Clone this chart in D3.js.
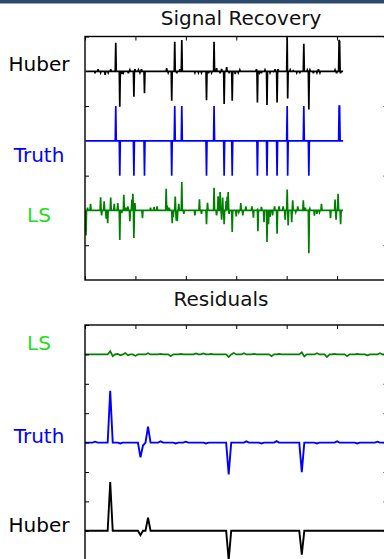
<!DOCTYPE html>
<html>
<head>
<meta charset="utf-8">
<script src="https://cdn.jsdelivr.net/npm/d3@7/dist/d3.min.js"></script>
<style>
  body { margin: 0; background: #fff; }
  text { font-family: "DejaVu Sans", sans-serif; }
</style>
</head>
<body>
<div class="svg-container"></div>
<script>
// signal length and x ticks
var sigLen = 512;
var xTicks = [0, 100, 200, 300, 400, 500, 600];

// true sparse signal: [index, value]
var truthSpikes = [[61,1],[69,-1],[97,-1],[118,-1],[172,-1],[178,1],[192,1],[241,-1],
                   [256,1],[276,-1],[292,-1],[342,-1],[361,-1],[381,-1],[401,1],[402,-1],
                   [434,1],[444,-1],[504,1],[505,1]];

// huber recovery: big spikes plus small noise
var huberSpikes = [[61,0.82],[69,-1.02],[97,-0.73],[118,-0.63],[172,-0.85],[178,0.85],
                   [192,0.9],[241,-0.83],[256,0.85],[276,-0.94],[292,-0.85],[342,-0.9],
                   [361,-0.97],[381,-0.9],[401,0.98],[402,-0.78],[434,0.79],[444,-1.1],
                   [504,0.9],[505,0.85]];
var huberNoise = [[20,-0.06],[26,0.06],[31,-0.04],[40,-0.1],[46,-0.04],[51,0.06],[73,-0.08],
                  [76,-0.04],[86,-0.06],[89,0.04],[99,0.06],[106,0.04],[109,-0.04],[112,0.06],
                  [162,0.09],[165,-0.04],[182,-0.06],[188,0.06],[218,-0.04],[225,-0.04],
                  [231,-0.04],[245,-0.06],[251,-0.04],[261,0.09],[268,-0.06],[271,0.07],
                  [281,0.12],[286,-0.06],[298,-0.08],[304,-0.04],[307,0.04],[340,0.06],
                  [346,-0.04],[350,-0.06],[357,0.04],[367,-0.04],[374,-0.01],[377,0.06],
                  [383,0.06],[407,0.04],[413,0.02],[420,-0.04],[426,-0.06],[441,0.04],
                  [446,0.04],[453,-0.06],[460,-0.04],[463,0.06],[466,-0.04],[496,0.04],
                  [499,-0.06],[507,-0.06]];

// least squares recovery
var lsValues = [[2,-0.72],[5,0.08],[11,0.19],[31,0.38],[33,-0.14],[38,0.26],[42,-0.24],
                [45,-0.37],[51,0.37],[58,0.19],[65,0.21],[69,-0.85],[73,-0.08],[77,0.45],
                [81,0.08],[85,0.12],[89,-0.31],[93,0.31],[95,0.48],[97,-0.79],[99,0.21],
                [114,-0.22],[130,0.08],[137,0.1],[143,0.12],[161,0.62],[163,0.14],[167,0.08],
                [173,-0.37],[175,-0.19],[179,0.4],[181,-0.29],[183,-0.31],[186,0.19],[192,0.82],
                [196,-0.1],[218,-0.14],[227,0.32],[231,-0.1],[241,-0.4],[243,0.22],[256,0.65],
                [261,-0.14],[264,0.41],[268,0.53],[271,-0.27],[273,0.37],[276,-0.4],[280,0.27],
                [282,0.4],[284,0.53],[286,-0.1],[292,-0.62],[300,-0.17],[305,-0.05],[309,0.21],
                [313,-0.14],[319,0.12],[331,0.12],[334,-0.21],[342,0.02],[343,-0.6],[350,0.1],
                [355,-0.34],[361,-0.91],[364,-0.4],[367,-0.19],[372,-0.14],[376,0.12],
                [381,-0.67],[385,0.12],[393,0.12],[397,-0.27],[401,0.6],[403,-0.43],[410,-0.34],
                [412,0.29],[418,-0.05],[422,0.12],[433,0.29],[437,0.08],[444,-1.23],[446,0.05],
                [455,-0.15],[460,-0.1],[465,-0.05],[469,0.19],[487,-0.22],[496,0.31],
                [498,-0.27],[502,0.48],[507,-0.4]];

// residuals, sampled every 5 over 0..600
var resStep = 5;
var resTruth = [[20,0.03],[50,1.76],[70,-0.03],[110,-0.5],[115,-0.1],[125,0.54],[150,0.04],
                [180,-0.03],[200,0.03],[240,-0.03],[285,-1.08],[320,0.04],[350,-0.03],
                [380,0.05],[430,-1.01],[460,-0.03],[500,0.04],[540,-0.03],[580,0.03]];
var resHuber = [[50,1.66],[110,-0.15],[125,0.45],[285,-1.0],[430,-0.81]];
var resLS = [[50,0.11],[55,-0.06],[65,0.02],[70,-0.03],[80,0.05],[85,-0.03],[100,-0.05],
             [125,0.04],[150,0.02],[170,-0.06],[190,0.02],[220,0.03],[235,0.03],[250,0.02],
             [285,-0.09],[295,0.05],[315,0.04],[335,0.02],[370,-0.06],[385,0.02],[430,0.07],
             [435,-0.07],[460,0.04],[480,-0.09],[495,0.02],[520,-0.06],[540,0.02],[560,-0.03],
             [585,0.04]];

var labelsTop = ["Huber", "Truth", "LS"];
var labelsRes = ["LS", "Truth", "Huber"];

function fillSeries(len, start, step, pairs) {
  var m = new Map();
  pairs.forEach(function(p) { m.set(p[0], (m.get(p[0]) || 0) + p[1]); });
  var out = [];
  for (var i = 0; i < len; i++) {
    var idx = start + i * step;
    out.push({ x: idx, y: m.get(idx) || 0 });
  }
  return out;
}

var huberSeries = fillSeries(sigLen, 1, 1, huberSpikes.concat(huberNoise));
var truthSeries = fillSeries(sigLen, 1, 1, truthSpikes);
var lsSeries = fillSeries(sigLen, 1, 1, lsValues);
var nRes = 600 / resStep + 1;
var resTruthSeries = fillSeries(nRes, 0, resStep, resTruth);
var resHuberSeries = fillSeries(nRes, 0, resStep, resHuber);
var resLSSeries = fillSeries(nRes, 0, resStep, resLS);

var svg = d3.select(".svg-container").append("svg")
  .attr("width", 384).attr("height", 559);

// beamer header strip
svg.append("rect").attr("x", 0).attr("y", 0).attr("width", 384).attr("height", 3.5)
  .attr("fill", "#2c4a6e");

var x = d3.scaleLinear().domain([0, 600]).range([85, 387.5]);
var ySig = d3.scaleLinear().domain([-4, 3]).range([280, 36.5]);
var yRes = d3.scaleLinear().domain([-1.3, 7]).range([569, 325]);

function drawPanel(y, yTicks, clipId, series, title, titleX, titleY) {
  var g = svg.append("g");
  var x0 = x.range()[0], x1 = x.range()[1];
  var yTop = y.range()[1], yBot = y.range()[0];

  svg.append("clipPath").attr("id", clipId).append("rect")
    .attr("x", x0).attr("y", yTop).attr("width", x1 - x0).attr("height", yBot - yTop);

  var lines = g.append("g").attr("clip-path", "url(#" + clipId + ")");
  series.forEach(function(s) {
    var line = d3.line()
      .x(function(d) { return x(d.x); })
      .y(function(d) { return y(d.y + s.offset); });
    lines.append("path").attr("d", line(s.data))
      .attr("fill", "none").attr("stroke", s.color)
      .attr("stroke-width", s.width).attr("stroke-linejoin", "miter");
  });

  // inward ticks on all sides
  var tl = 4;
  g.append("g").attr("transform", "translate(0," + yTop + ")")
    .call(d3.axisBottom(x).tickValues(xTicks).tickSize(tl).tickFormat(""));
  g.append("g").attr("transform", "translate(0," + yBot + ")")
    .call(d3.axisTop(x).tickValues(xTicks).tickSize(tl).tickFormat(""));
  g.append("g").attr("transform", "translate(" + x0 + ",0)")
    .call(d3.axisRight(y).tickValues(yTicks).tickSize(tl).tickFormat(""));
  g.append("g").attr("transform", "translate(" + x1 + ",0)")
    .call(d3.axisLeft(y).tickValues(yTicks).tickSize(tl).tickFormat(""));
  g.selectAll(".domain").remove();
  g.selectAll(".tick line").attr("stroke", "#000").attr("stroke-width", 1);

  g.append("rect").attr("x", x0).attr("y", yTop).attr("width", x1 - x0).attr("height", yBot - yTop)
    .attr("fill", "none").attr("stroke", "#000").attr("stroke-width", 1.4);

  svg.append("text").attr("x", titleX).attr("y", titleY)
    .attr("text-anchor", "middle").attr("font-size", 20).attr("fill", "#111")
    .text(title);
}

drawPanel(ySig, [-3, -1, 1, 3], "clipSig", [
  { data: huberSeries, offset: 2, color: "#000000", width: 1.7 },
  { data: truthSeries, offset: 0, color: "#0000ff", width: 1.7 },
  { data: lsSeries, offset: -2, color: "#008000", width: 1.7 }
], "Signal Recovery", 241, 25);

drawPanel(yRes, [-1, 0, 1, 2, 3, 4, 5, 6, 7], "clipRes", [
  { data: resLSSeries, offset: 6, color: "#008000", width: 1.7 },
  { data: resTruthSeries, offset: 3, color: "#0000ff", width: 1.9 },
  { data: resHuberSeries, offset: 0, color: "#000000", width: 1.9 }
], "Residuals", 221, 306);

// row labels
var labelColor = { "Huber": "#000000", "Truth": "#0000ff", "LS": "#22dd22" };
var topLabelY = [71, 162, 222];
var resLabelY = [350, 443, 532];
labelsTop.forEach(function(t, i) {
  svg.append("text").attr("x", 39).attr("y", topLabelY[i]).attr("text-anchor", "middle")
    .attr("font-size", 20).attr("fill", labelColor[t]).text(t);
});
labelsRes.forEach(function(t, i) {
  svg.append("text").attr("x", 39).attr("y", resLabelY[i]).attr("text-anchor", "middle")
    .attr("font-size", 20).attr("fill", labelColor[t]).text(t);
});
</script>
</body>
</html>
